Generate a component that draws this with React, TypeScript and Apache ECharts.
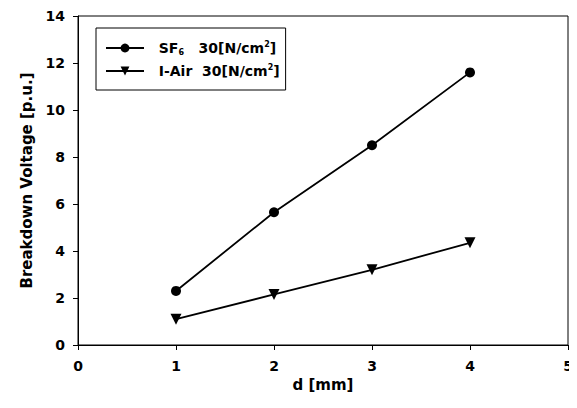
import React, { useEffect, useRef } from "react";
import * as echarts from "echarts";

const xValues = [1, 2, 3, 4];
const sf6Values = [2.3, 5.65, 8.5, 11.6];
const airValues = [1.1, 2.15, 3.2, 4.35];
const seriesNames = ["SF6 30[N/cm2]", "I-Air 30[N/cm2]"];
const legendLabels: Record<string, string> = {
  "SF6 30[N/cm2]": "  SF{sub|6}   30[N/cm{sup|2}]",
  "I-Air 30[N/cm2]": "  I-Air  30[N/cm{sup|2}]",
};
const xAxisTitle = "d [mm]";
const yAxisTitle = "Breakdown Voltage [p.u.]";

const FONT = "'DejaVu Sans', 'Liberation Sans', Arial, sans-serif";

export default function App() {
  const ref = useRef<HTMLDivElement>(null);
  useEffect(() => {
    if (!ref.current) return;
    const chart = echarts.init(ref.current, null, { renderer: "svg" });
    const pair = (vals: number[]) => xValues.map((x, i) => [x, vals[i]]);
    const labelStyle = { fontFamily: FONT, fontWeight: "bold" as const, fontSize: 14, color: "#000" };
    chart.setOption({
      animation: false,
      backgroundColor: "#fff",
      textStyle: { fontFamily: FONT },
      grid: {
        left: 78,
        right: 9,
        top: 16,
        bottom: 63,
        show: true,
        borderColor: "#000",
        borderWidth: 1,
        backgroundColor: "transparent",
      },
      legend: {
        orient: "vertical",
        left: 96,
        top: 28,
        padding: [12, 6, 11, 9],
        itemGap: 7,
        itemWidth: 38,
        itemHeight: 11,
        borderColor: "#000",
        borderWidth: 1,
        data: seriesNames,
        formatter: (name: string) => legendLabels[name] ?? name,
        textStyle: {
          fontFamily: FONT,
          fontWeight: "bold",
          fontSize: 14,
          color: "#000",
          lineHeight: 16,
          rich: {
            sub: { fontFamily: FONT, fontWeight: "bold", fontSize: 8, color: "#000", verticalAlign: "bottom", lineHeight: 10, padding: [8, 0, 0, 0] },
            sup: { fontFamily: FONT, fontWeight: "bold", fontSize: 8, color: "#000", verticalAlign: "top", lineHeight: 10, padding: [0, 0, 6, 0] },
          },
        },
      },
      xAxis: {
        type: "value",
        min: 0,
        max: 5,
        interval: 1,
        name: xAxisTitle,
        nameLocation: "middle",
        nameGap: 31,
        nameTextStyle: { fontFamily: FONT, fontWeight: "bold", fontSize: 15, color: "#000" },
        axisLine: { lineStyle: { color: "#000", width: 1 } },
        axisTick: { show: true, length: 5, lineStyle: { color: "#000" } },
        axisLabel: { ...labelStyle, margin: 14 },
        splitLine: { show: false },
      },
      yAxis: {
        type: "value",
        min: 0,
        max: 14,
        interval: 2,
        name: yAxisTitle,
        nameLocation: "middle",
        nameGap: 42,
        nameTextStyle: { fontFamily: FONT, fontWeight: "bold", fontSize: 15, color: "#000" },
        axisLine: { lineStyle: { color: "#000", width: 1 } },
        axisTick: { show: true, length: 5, lineStyle: { color: "#000" } },
        axisLabel: { ...labelStyle, margin: 13 },
        splitLine: { show: false },
      },
      series: [
        {
          name: seriesNames[0],
          type: "line",
          data: pair(sf6Values),
          symbol: "circle",
          symbolSize: 10,
          lineStyle: { color: "#000", width: 1.8 },
          itemStyle: { color: "#000" },
        },
        {
          name: seriesNames[1],
          type: "line",
          data: pair(airValues),
          symbol: "triangle",
          symbolRotate: 180,
          symbolSize: 11,
          lineStyle: { color: "#000", width: 1.8 },
          itemStyle: { color: "#000" },
        },
      ],
    });
    return () => chart.dispose();
  }, []);
  return <div ref={ref} style={{ width: 577, height: 408, margin: -8 }} />;
}
